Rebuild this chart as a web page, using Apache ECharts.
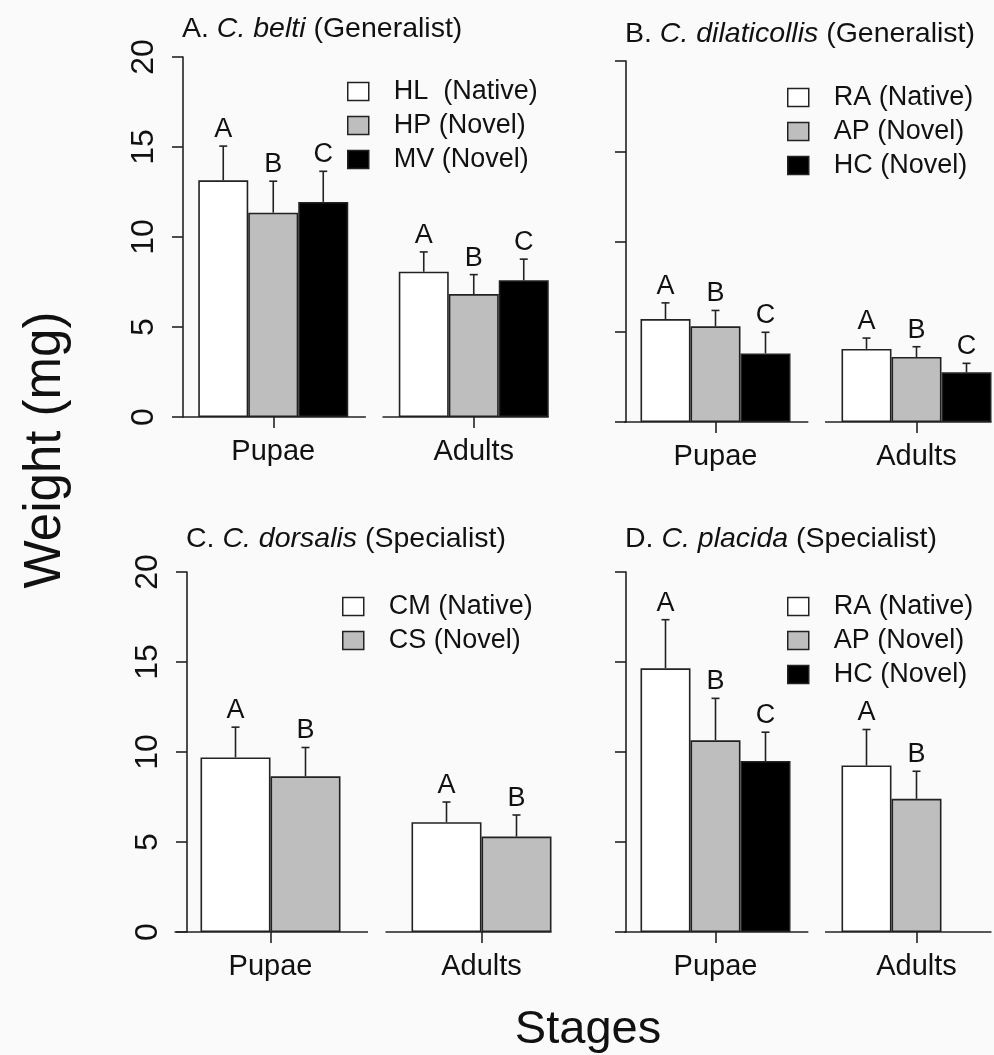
<!DOCTYPE html>
<html>
<head>
<meta charset="utf-8">
<title>Weight by stage</title>
<script src="https://cdn.jsdelivr.net/npm/echarts@6/dist/echarts.min.js"></script>
<style>
  html, body { margin: 0; padding: 0; background: #fafafa; overflow: hidden; }
  #chart { width: 1040px; height: 1055px; }
</style>
</head>
<body>
<div id="chart"></div>
<script>
var stages = ['Pupae', 'Adults'];
var yTicks = [0, 5, 10, 15, 20];

// A. C. belti
var hostsA = ['HL  (Native)', 'HP (Novel)', 'MV (Novel)'];
var meanA = [[13.15, 8.07], [11.35, 6.83], [11.95, 7.6]];
var sdA = [[1.9, 1.1], [1.75, 1.08], [1.7, 1.17]];
var lettersA = [['A', 'A'], ['B', 'B'], ['C', 'C']];

// B. C. dilaticollis
var hostsB = ['RA (Native)', 'AP (Novel)', 'HC (Novel)'];
var meanB = [[5.7, 4.05], [5.3, 3.6], [3.8, 2.75]];
var sdB = [[0.9, 0.6], [0.88, 0.57], [1.17, 0.5]];
var lettersB = [['A', 'A'], ['B', 'B'], ['C', 'C']];

// C. C. dorsalis
var hostsC = ['CM (Native)', 'CS (Novel)'];
var meanC = [[9.7, 6.1], [8.65, 5.3]];
var sdC = [[1.68, 1.12], [1.6, 1.2]];
var lettersC = [['A', 'A'], ['B', 'B']];

// D. C. placida (no HC adults)
var hostsD = ['RA (Native)', 'AP (Novel)', 'HC (Novel)'];
var meanD = [[14.65, 9.25], [10.65, 7.4], [9.5, null]];
var sdD = [[2.7, 2.0], [2.33, 1.53], [1.6, null]];
var lettersD = [['A', 'A'], ['B', 'B'], ['C', null]];

(function() {
    var font = "'Liberation Sans', Arial, Helvetica, sans-serif";
    var ink = '#111';
    var edge = '#222';
    var fills = ['#ffffff', '#bebebe', '#000000'];

    var panels = [
        { title: 'A. {i|C. belti} (Generalist)', tx: 182, ty: 15, grid: { left: 173, top: 57, width: 401, height: 360 },
          axisOff: -10, labels: true, barW: 50, hosts: hostsA, mean: meanA, sd: sdA, letters: lettersA, lx: 347, ly: 78 },
        { title: 'B. {i|C. dilaticollis} (Generalist)', tx: 625, ty: 20, grid: { left: 615, top: 61, width: 402, height: 361 },
          axisOff: -11, labels: false, barW: 50, hosts: hostsB, mean: meanB, sd: sdB, letters: lettersB, lx: 787, ly: 84 },
        { title: 'C. {i|C. dorsalis} (Specialist)', tx: 186, ty: 525, grid: { left: 165, top: 572, width: 422, height: 360 },
          axisOff: -22, labels: true, barW: 70, hosts: hostsC, mean: meanC, sd: sdC, letters: lettersC, lx: 342, ly: 593 },
        { title: 'D. {i|C. placida} (Specialist)', tx: 625, ty: 525, grid: { left: 615, top: 572, width: 402, height: 360 },
          axisOff: -11, labels: false, barW: 50, hosts: hostsD, mean: meanD, sd: sdD, letters: lettersD, lx: 787, ly: 593 }
    ];

    var grids = [], xAxes = [], yAxes = [], titles = [], legends = [], series = [];

    panels.forEach(function(p, gi) {
        var n = p.hosts.length;
        grids.push(p.grid);

        titles.push({
            text: p.title, left: p.tx, top: p.ty, padding: 0,
            textStyle: {
                fontSize: 28.5, fontWeight: 'normal', color: ink, fontFamily: font,
                rich: { i: { fontSize: 28.5, fontStyle: 'italic', color: ink, fontFamily: font } }
            }
        });

        xAxes.push({
            type: 'category', gridIndex: gi, data: stages, boundaryGap: true,
            axisLine: { show: false },
            axisTick: { show: true, alignWithLabel: true, length: 11, lineStyle: { color: edge, width: 1.6 } },
            axisLabel: { color: ink, fontSize: 29, fontFamily: font, margin: 20, interval: 0 },
            splitLine: { show: false }
        });

        yAxes.push({
            type: 'value', gridIndex: gi, min: yTicks[0], max: yTicks[yTicks.length - 1], interval: 5,
            offset: p.axisOff,
            axisLine: { show: true, lineStyle: { color: edge, width: 1.6 } },
            axisTick: { show: true, length: 11, lineStyle: { color: edge, width: 1.6 } },
            axisLabel: { show: p.labels, rotate: 90, color: ink, fontSize: 32, fontFamily: font, margin: 23 },
            splitLine: { show: false }
        });

        legends.push({
            data: p.hosts, left: p.lx, top: p.ly, orient: 'vertical', icon: 'rect', padding: 0,
            itemWidth: 21, itemHeight: 18, itemGap: 7, selectedMode: false,
            itemStyle: { borderColor: edge, borderWidth: 1.5 },
            textStyle: { fontSize: 27, lineHeight: 27, color: ink, fontFamily: font, padding: [0, 0, 0, 20] }
        });

        // bars
        p.hosts.forEach(function(h, s) {
            series.push({
                name: h, type: 'bar', xAxisIndex: gi, yAxisIndex: gi,
                barWidth: p.barW, barGap: '0%',
                itemStyle: { color: fills[s], borderColor: edge, borderWidth: 1.6 },
                data: p.mean[s].map(function(v) { return v == null ? '-' : v; }),
                animation: false, z: 2
            });
        });

        // split baselines under each group
        series.push({
            type: 'custom', xAxisIndex: gi, yAxisIndex: gi, animation: false, z: 3, silent: true,
            data: stages.map(function(s, i) { return [i, 0]; }),
            renderItem: function(params, api) {
                var c = api.coord([api.value(0), 0]);
                var band = api.size([1, 0])[0];
                var lastEdge = api.coord([stages.length - 1, 0])[0] + n * p.barW / 2;
                return {
                    type: 'line',
                    shape: { x1: c[0] - 0.455 * band, y1: c[1], x2: Math.min(c[0] + 0.462 * band, lastEdge), y2: c[1] },
                    style: { stroke: edge, lineWidth: 1.6 }
                };
            }
        });

        // error bars and letters
        var errData = [], labs = [];
        p.hosts.forEach(function(h, s) {
            stages.forEach(function(st, c) {
                if (p.mean[s][c] == null) return;
                errData.push([c, p.mean[s][c], p.sd[s][c], s]);
                labs.push(p.letters[s][c]);
            });
        });
        series.push({
            type: 'custom', xAxisIndex: gi, yAxisIndex: gi, animation: false, z: 5, silent: true,
            data: errData,
            renderItem: function(params, api) {
                var cat = api.value(0), m = api.value(1), sd = api.value(2), s = api.value(3);
                var base = api.coord([cat, m]);
                var top = api.coord([cat, m + sd]);
                var x = base[0] + (s - (n - 1) / 2) * p.barW;
                return {
                    type: 'group',
                    children: [
                        { type: 'line', shape: { x1: x, y1: base[1], x2: x, y2: top[1] }, style: { stroke: edge, lineWidth: 1.6 } },
                        { type: 'line', shape: { x1: x - 4, y1: top[1], x2: x + 4, y2: top[1] }, style: { stroke: edge, lineWidth: 1.6 } },
                        { type: 'text', x: x, y: top[1] - 3,
                          style: { text: labs[params.dataIndex], fill: ink, fontSize: 27, fontFamily: font, align: 'center', verticalAlign: 'bottom' } }
                    ]
                };
            }
        });
    });

    var chart = echarts.init(document.getElementById('chart'), null, { renderer: 'canvas' });
    chart.setOption({
        backgroundColor: '#fafafa',
        animation: false,
        title: titles,
        legend: legends,
        grid: grids,
        xAxis: xAxes,
        yAxis: yAxes,
        series: series,
        graphic: [
            { type: 'text', x: 46, y: 450, rotation: Math.PI / 2,
              style: { text: 'Weight (mg)', fill: ink, fontSize: 51, fontFamily: font, align: 'center', verticalAlign: 'middle' } },
            { type: 'text', x: 588, y: 1030,
              style: { text: 'Stages', fill: ink, fontSize: 47, fontFamily: font, align: 'center', verticalAlign: 'middle' } }
        ]
    });

    window.addEventListener('resize', function() { chart.resize(); });
})();
</script>
</body>
</html>
